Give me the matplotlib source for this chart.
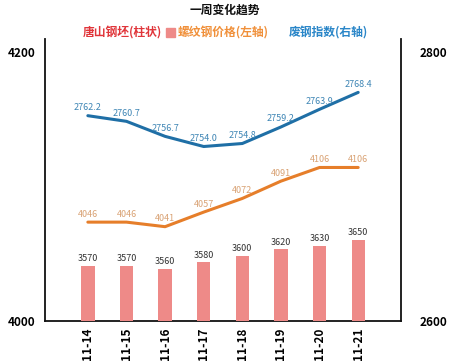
import matplotlib
matplotlib.use("Agg")
import matplotlib.pyplot as plt
import numpy as np

plt.rcParams['font.family'] = ['Noto Sans CJK SC', 'DejaVu Sans']

# data
dates = ['11-14', '11-15', '11-16', '11-17', '11-18', '11-19', '11-20', '11-21']
billet = [3570, 3570, 3560, 3580, 3600, 3620, 3630, 3650]        # 唐山钢坯 (bars)
rebar = [4046, 4046, 4041, 4057, 4072, 4091, 4106, 4106]         # 螺纹钢价格 (left)
scrap = [2762.2, 2760.7, 2756.7, 2754.0, 2754.8, 2759.2, 2763.9, 2768.4]  # 废钢指数 (right)
left_ticks = [4000, 4200]
right_ticks = [2600, 2800]

c_bar = '#ee8a88'
c_rebar = '#e67e2a'
c_scrap = '#1f6fa6'

fig = plt.figure(figsize=(4.53, 3.62), dpi=100)
ax = fig.add_axes([0.0993, 0.1146, 0.786, 0.7776])
x = np.arange(len(dates))

# visible frame with end labels only
ax.set_xlim(-1.11, len(dates) - 1 + 1.11)
ax.set_ylim(4000, 4209.7)
ax.set_yticks(left_ticks)
ax.set_yticklabels([str(v) for v in left_ticks], fontweight='bold', fontsize=8.5)
ax.set_xticks(x)
ax.set_xticklabels(dates, rotation=90, fontweight='bold', fontsize=8.5)
ax.tick_params(axis='both', length=0)
ax.tick_params(axis='y', pad=7)
ax.tick_params(axis='x', pad=5)
ax.spines['top'].set_visible(False)
for s in ['left', 'right', 'bottom']:
    ax.spines[s].set_linewidth(1.3)
    ax.spines[s].set_color('#111111')

axr = ax.twinx()
axr.set_ylim(2600, 2809.7)
axr.set_yticks(right_ticks)
axr.set_yticklabels([str(v) for v in right_ticks], fontweight='bold', fontsize=8.5)
axr.tick_params(axis='y', length=0, pad=13)
for s in axr.spines.values():
    s.set_visible(False)

# bars on a hidden scale
axb = ax.twinx()
axb.set_ylim(3400, 4272)
axb.bar(x, billet, width=0.345, color=c_bar, zorder=2)
for xi, v in zip(x, billet):
    axb.annotate(str(v), (xi, v), xytext=(0, 2), textcoords='offset points',
                 ha='center', va='bottom', fontsize=6.5, color='#333333')
axb.axis('off')

# rebar line on a hidden scale
axo = ax.twinx()
axo.set_ylim(3938, 4247)
axo.plot(x, rebar, color=c_rebar, lw=2.2, solid_capstyle='round')
for xi, v in zip(x, rebar):
    axo.annotate(str(v), (xi, v), xytext=(0, 2.5), textcoords='offset points',
                 ha='center', va='bottom', fontsize=6.5, color='#d9a274')
axo.axis('off')

# scrap index line on a hidden scale
axs = ax.twinx()
axs.set_ylim(2707.7, 2782.6)
axs.plot(x, scrap, color=c_scrap, lw=2.2, solid_capstyle='round')
for xi, v in zip(x, scrap):
    axs.annotate(f'{v:.1f}', (xi, v), xytext=(0, 2.5), textcoords='offset points',
                 ha='center', va='bottom', fontsize=6.5, color='#3f86b5')
axs.axis('off')

# title and coloured legend row
fig.text(0.497, 0.972, '一周变化趋势', ha='center', va='center', fontsize=8.5,
         fontweight='bold', color='#111111')
fig.text(0.183, 0.909, '唐山钢坯(柱状)', ha='left', va='center', fontsize=8.5,
         fontweight='bold', color='#e0353a')
fig.patches.append(plt.Rectangle((0.367, 0.897), 0.02, 0.025, transform=fig.transFigure,
                                 color=c_bar, figure=fig))
fig.text(0.393, 0.909, '螺纹钢价格(左轴)', ha='left', va='center', fontsize=8.5,
         fontweight='bold', color='#f0903a')
fig.text(0.638, 0.909, '废钢指数(右轴)', ha='left', va='center', fontsize=8.5,
         fontweight='bold', color='#2a86c8')

fig.savefig('out.png', dpi=100)
